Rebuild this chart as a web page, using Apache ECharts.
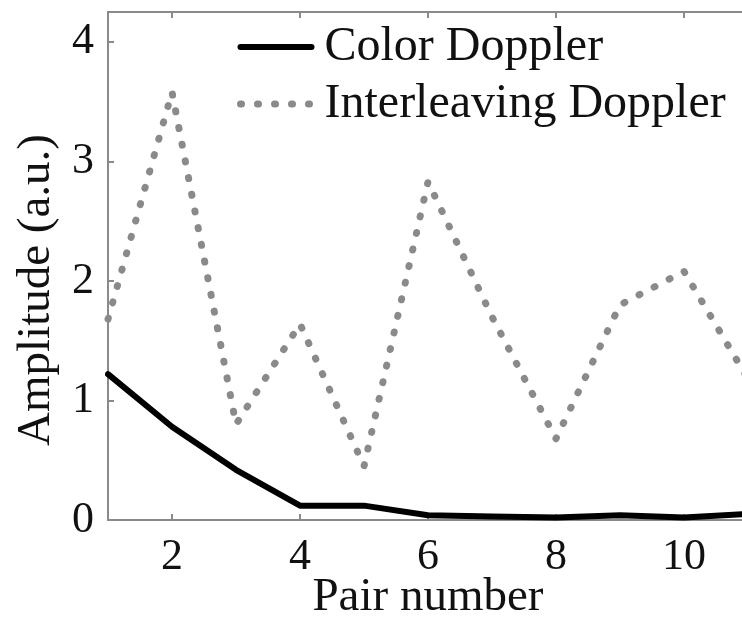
<!DOCTYPE html>
<html>
<head>
<meta charset="utf-8">
<script src="https://cdn.jsdelivr.net/npm/echarts@6/dist/echarts.min.js"></script>
<style>
html,body{margin:0;padding:0;background:#fff;}
#chart{width:742px;height:622px;}
</style>
</head>
<body>
<div id="chart"></div>
<script>
var pairNumbers = [1, 2, 3, 4, 5, 6, 7, 8, 9, 10, 11];
var colorDoppler = [1.22, 0.78, 0.42, 0.12, 0.12, 0.04, 0.03, 0.02, 0.04, 0.02, 0.05];
var interleavingDoppler = [1.68, 3.58, 0.8, 1.64, 0.45, 2.83, 1.7, 0.68, 1.8, 2.08, 1.18];
var xTicks = [2, 4, 6, 8, 10];
var yTicks = [0, 1, 2, 3, 4];
var seriesNames = ['Color Doppler', 'Interleaving Doppler'];
var xTitle = 'Pair number';
var yTitle = 'Amplitude (a.u.)';

function pairs(xs, ys) { return xs.map(function (x, i) { return [x, ys[i]]; }); }

var FONT = '"Liberation Serif", "Times New Roman", serif';
var frameColor = '#8a8a8a';
var textColor = '#111111';
var chart = echarts.init(document.getElementById('chart'), null, {renderer: 'canvas'});

var hiddenLabel = {show: false};
chart.setOption({
  animation: false,
  backgroundColor: '#ffffff',
  grid: {left: 108, right: -6, top: 12, bottom: 102, containLabel: false, outerBoundsMode: 'none'},
  legend: {
    orient: 'vertical',
    left: 237,
    top: 23,
    padding: 0,
    itemWidth: 71,
    itemHeight: 20,
    itemGap: 9,
    data: seriesNames,
    itemStyle: {opacity: 0},
    lineStyle: {width: 'inherit', type: 'inherit', cap: 'inherit'},
    textStyle: {fontFamily: FONT, fontSize: 48, color: textColor, lineHeight: 46, padding: [0, 0, 0, 8]}
  },
  xAxis: [{
    type: 'value', min: 1, max: 11, interval: 1,
    axisLine: {show: true, onZero: false, lineStyle: {color: frameColor, width: 2}},
    axisTick: {show: true, inside: true, length: 6, customValues: xTicks, lineStyle: {color: frameColor, width: 2}},
    axisLabel: {customValues: xTicks, fontFamily: FONT, fontSize: 44, color: textColor, margin: 15},
    splitLine: {show: false},
    name: xTitle, nameLocation: 'middle', nameGap: 54, nameMoveOverlap: false,
    nameTextStyle: {fontFamily: FONT, fontSize: 47, color: textColor}
  }, {
    type: 'value', min: 1, max: 11, interval: 1, position: 'top',
    axisLine: {show: true, onZero: false, lineStyle: {color: frameColor, width: 2}},
    axisTick: {show: true, inside: true, length: 6, customValues: xTicks, lineStyle: {color: frameColor, width: 2}},
    axisLabel: hiddenLabel, splitLine: {show: false}
  }],
  yAxis: [{
    type: 'value', min: 0, max: 4.25, interval: 1,
    axisLine: {show: true, onZero: false, lineStyle: {color: frameColor, width: 2}},
    axisTick: {show: true, inside: true, length: 6, customValues: yTicks, lineStyle: {color: frameColor, width: 2}},
    axisLabel: {customValues: yTicks, fontFamily: FONT, fontSize: 44, color: textColor, margin: 14},
    splitLine: {show: false},
    name: yTitle, nameLocation: 'middle', nameGap: 48, nameRotate: 90, nameMoveOverlap: false,
    nameTextStyle: {fontFamily: FONT, fontSize: 47, color: textColor, padding: [0, 48, 0, 0]}
  }, {
    type: 'value', min: 0, max: 4.25, interval: 1, position: 'right',
    axisLine: {show: true, onZero: false, lineStyle: {color: frameColor, width: 2}},
    axisTick: {show: true, inside: true, length: 6, customValues: yTicks, lineStyle: {color: frameColor, width: 2}},
    axisLabel: hiddenLabel, splitLine: {show: false}
  }],
  series: [{
    name: seriesNames[0], type: 'line', symbol: 'none',
    data: pairs(pairNumbers, colorDoppler),
    lineStyle: {color: '#000000', width: 6, join: 'round', cap: 'round'},
    itemStyle: {color: '#000000'}
  }, {
    name: seriesNames[1], type: 'line', symbol: 'none',
    data: pairs(pairNumbers, interleavingDoppler),
    lineStyle: {color: '#8a8a8a', width: 7, type: [1, 16], cap: 'round', join: 'round'},
    itemStyle: {color: '#8a8a8a'}
  }]
});
</script>
</body>
</html>
